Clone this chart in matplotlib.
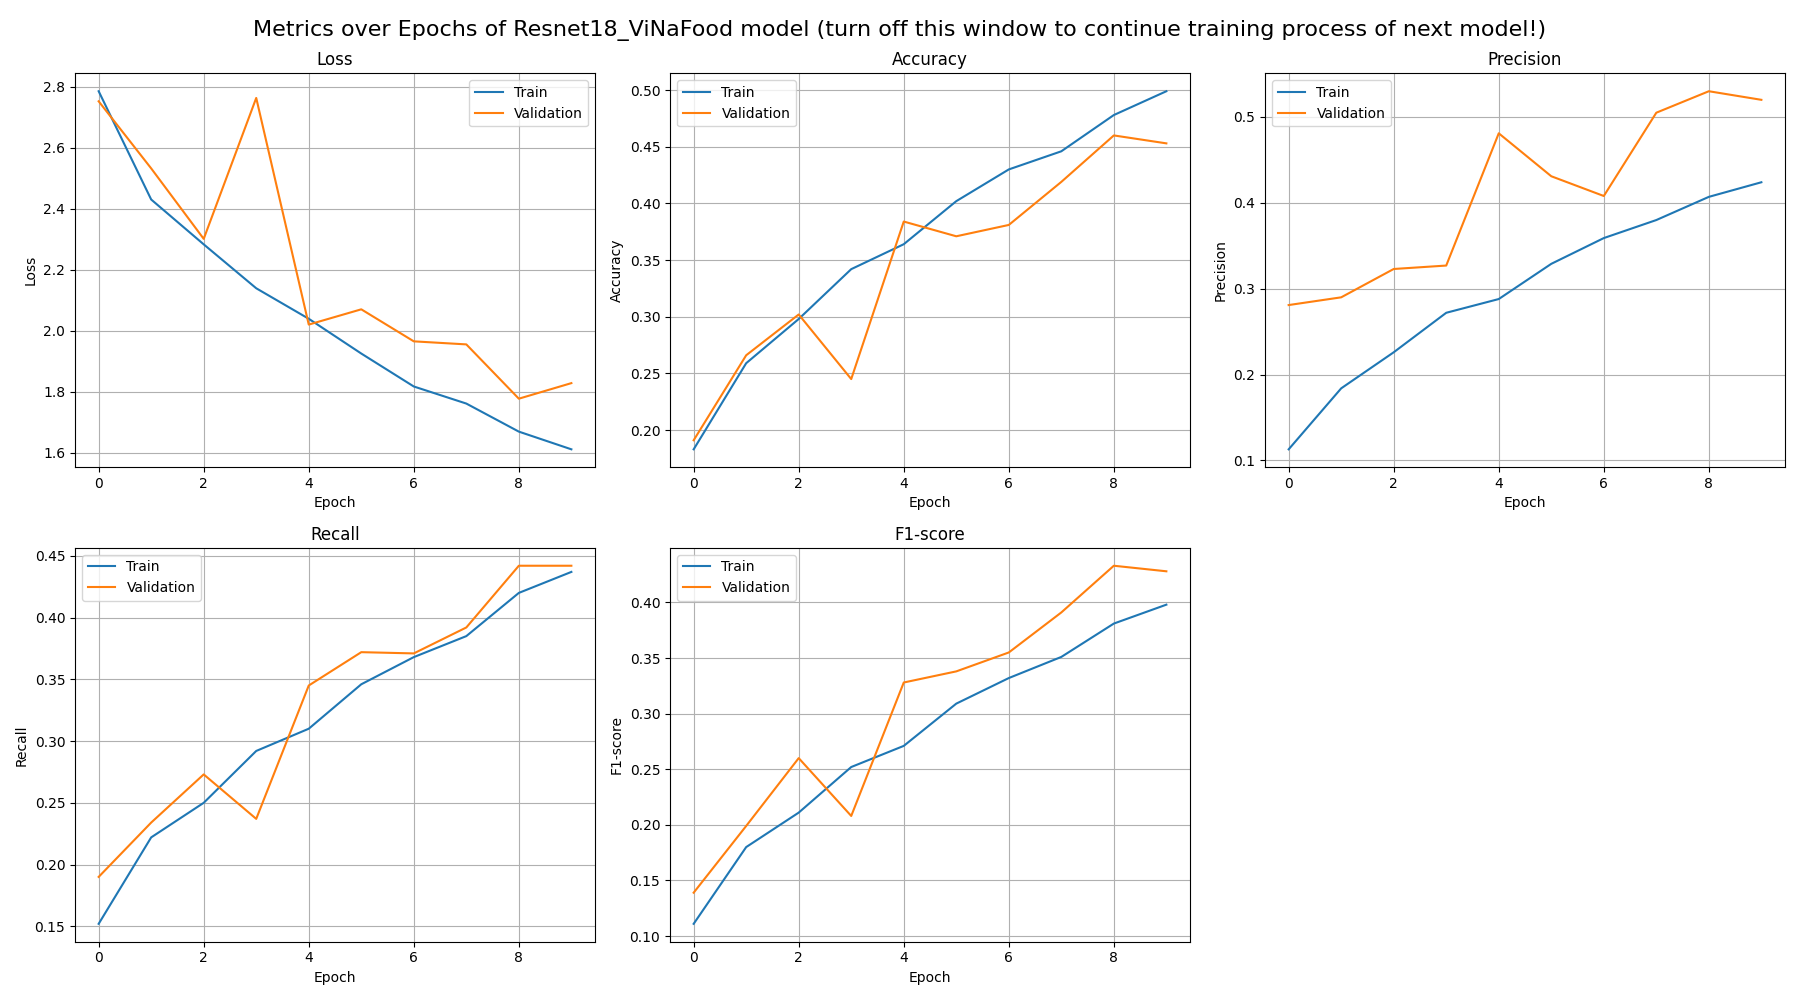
import matplotlib
matplotlib.use('Agg')
import matplotlib.pyplot as plt

model_name = 'Resnet18_ViNaFood'
epochs = list(range(10))

train_loss = [2.785, 2.430, 2.283, 2.139, 2.039, 1.925, 1.817, 1.761, 1.669, 1.611]
val_loss = [2.752, 2.532, 2.301, 2.763, 2.020, 2.070, 1.965, 1.955, 1.777, 1.828]

train_acc = [0.183, 0.259, 0.298, 0.342, 0.364, 0.402, 0.430, 0.446, 0.478, 0.499]
val_acc = [0.191, 0.266, 0.302, 0.245, 0.384, 0.371, 0.381, 0.419, 0.460, 0.453]

train_prec = [0.113, 0.184, 0.226, 0.272, 0.288, 0.329, 0.359, 0.380, 0.407, 0.424]
val_prec = [0.281, 0.290, 0.323, 0.327, 0.481, 0.431, 0.408, 0.505, 0.530, 0.520]

train_rec = [0.152, 0.222, 0.250, 0.292, 0.310, 0.346, 0.368, 0.385, 0.420, 0.437]
val_rec = [0.190, 0.234, 0.273, 0.237, 0.345, 0.372, 0.371, 0.392, 0.442, 0.442]

train_f1 = [0.111, 0.180, 0.211, 0.252, 0.271, 0.309, 0.332, 0.351, 0.381, 0.398]
val_f1 = [0.139, 0.199, 0.260, 0.208, 0.328, 0.338, 0.355, 0.391, 0.433, 0.428]

metrics = [
    ('Loss', train_loss, val_loss),
    ('Accuracy', train_acc, val_acc),
    ('Precision', train_prec, val_prec),
    ('Recall', train_rec, val_rec),
    ('F1-score', train_f1, val_f1),
]

fig, axes = plt.subplots(2, 3, figsize=(18, 10))
axes = axes.flatten()

for i, (name, tr, va) in enumerate(metrics):
    ax = axes[i]
    ax.plot(epochs, tr, label='Train')
    ax.plot(epochs, va, label='Validation')
    ax.set_title(name)
    ax.set_xlabel('Epoch')
    ax.set_ylabel(name)
    ax.legend()
    ax.grid(True)

# o thu 6 de trong
axes[5].axis('off')

fig.suptitle(f'Metrics over Epochs of {model_name} model (turn off this window to continue training process of next model!)',
             fontsize=16)
plt.tight_layout()
plt.savefig('out.png', dpi=100)
